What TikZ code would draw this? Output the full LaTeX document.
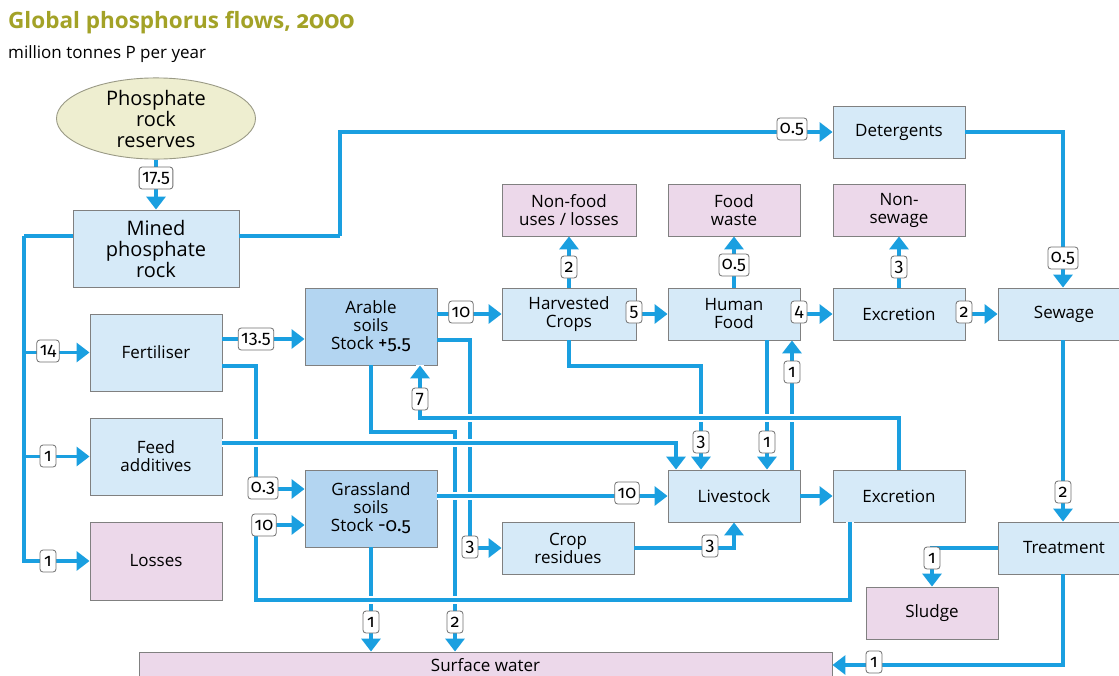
\documentclass[tikz,border=0pt]{standalone}
\usepackage{fontspec}
\setmainfont{Open Sans}
\newfontfamily\numf{Fira Sans}[Numbers=OldStyle]
\usetikzlibrary{arrows.meta,shapes.geometric,calc}
\definecolor{lb}{HTML}{D6EAF8}
\definecolor{db}{HTML}{B3D5F1}
\definecolor{pk}{HTML}{ECD8EA}
\definecolor{ell}{HTML}{EEEED0}
\definecolor{ellline}{HTML}{9A9A86}
\definecolor{boxline}{HTML}{808080}
\definecolor{fl}{HTML}{1A9FE0}
\definecolor{olive}{HTML}{A3A227}
\definecolor{labline}{HTML}{707070}
\begin{document}
\begin{tikzpicture}[x=1pt,y=-1pt,
  box/.style={draw=boxline,line width=0.9pt,fill=lb,minimum width=132pt,minimum height=52pt,inner sep=0pt,align=center,font=\fontsize{17}{18}\selectfont},
  tall/.style={box,minimum height=77pt},
  dark/.style={fill=db},
  pinkb/.style={fill=pk},
  flow/.style={draw=fl,line width=3.2pt,-{Triangle[width=19pt,length=13pt]}},
  plain/.style={draw=fl,line width=3.2pt},
  over/.style={preaction={draw=white,line width=8.5pt,-}},
  lab/.style={draw=labline,fill=white,rounded corners=3pt,line width=0.8pt,inner xsep=3pt,inner ysep=0pt,minimum width=16pt,minimum height=22pt,font=\numf\fontsize{18}{18}\selectfont}]
\fill[white] (0,0) rectangle (1119,675);
\useasboundingbox (0,0) rectangle (1119,675);
% titles
\node[anchor=base west,inner sep=0pt,text=olive,font=\fontsize{22.5}{26}\selectfont\bfseries] (title) at (8,28) {Global phosphorus flows, {\numf\bfseries\fontsize{24}{26}\selectfont 2000}};
\node[anchor=base west,inner sep=0pt,font=\fontsize{17}{19}\selectfont] (sub) at (8,58) {million tonnes P per year};
% nodes
\node[ellipse,draw=ellline,fill=ell,line width=0.9pt,minimum width=199pt,minimum height=77pt,inner sep=0pt,align=center,font=\fontsize{20}{21}\selectfont] (res) at (156,118.5) {Phosphate\\rock\\reserves};
\node[box,minimum width=166pt,minimum height=77pt,font=\fontsize{20}{21}\selectfont] (mined) at (156,248.5) {Mined\\phosphate\\rock};
\node[box] (det) at (899,132) {Detergents};
\node[box,pinkb,minimum width=134pt] (nonfood) at (569,210) {Non-food\\uses / losses};
\node[box,pinkb] (fwaste) at (734,210) {Food\\waste};
\node[box,pinkb] (nonsew) at (899,210) {Non-\\sewage};
\node[box,minimum width=134pt] (harv) at (569,314) {Harvested\\Crops};
\node[box] (hfood) at (734,314) {Human\\Food};
\node[box] (excr) at (899,314) {Excretion};
\node[box] (sew) at (1064,314) {Sewage};
\node[tall,dark] (arable) at (371,326.5) {Arable\\soils\\Stock {\numf\fontsize{19}{18}\selectfont +5.5}};
\node[tall] (fert) at (156,352.5) {Fertiliser};
\node[tall] (feed) at (156,456.5) {Feed\\additives};
\node[tall,pinkb,minimum height=78pt] (loss) at (156,561) {Losses};
\node[tall,dark] (grass) at (371,508.5) {Grassland\\soils\\Stock {\numf\fontsize{19}{18}\selectfont -0.5}};
\node[box] (live) at (734,496) {Livestock};
\node[box] (excr2) at (899,496) {Excretion};
\node[box] (crop) at (568,548) {Crop\\residues};
\node[box] (treat) at (1064,548) {Treatment};
\node[box,pinkb] (sludge) at (932,613) {Sludge};
\node[box,pinkb,minimum width=693pt,minimum height=26pt] (surf) at (485.5,665) {Surface water};
% coordinates for bends
\coordinate (t0) at (24,236);
\coordinate (t1) at (24,352.5);
\coordinate (t2) at (24,456.5);
\coordinate (m1) at (340,236);
\coordinate (f1) at (256,366);
\coordinate (b1) at (850,600);
\coordinate (b2) at (256,600);
\coordinate (a1) at (470,340);
\coordinate (s2) at (455,432);
\coordinate (s7) at (420,418);
\coordinate (h3) at (701,366);
% under flows
\draw[flow] (res.south) -- (mined.north);
\draw[plain] ([yshift=12.5pt]mined.east) -- (m1);
\draw[flow] (m1) |- (det.west);
\draw[flow] (det.east) -| ([xshift=-1pt]sew.north);
\draw[plain] ([yshift=12.5pt]mined.west) -- (t0);
\draw[flow] (t0) |- (loss.west);
\draw[flow] (t1) -- (fert.west);
\draw[flow] (t2) -- (feed.west);
\draw[flow] ([yshift=13.5pt]fert.east) coordinate (fa) -- (fa -| arable.west);
\draw[flow] ([yshift=-13.5pt]fert.east) -- (f1) |- ([yshift=19.5pt]grass.west);
\draw[flow] (harv.west -| arable.east) -- (harv.west);
\draw[flow] ([yshift=-13.5pt]arable.east) -- (a1) |- (crop.west);
\draw[flow] (arable.south) |- (s2) -- (s2 |- surf.north);
\draw[flow] (harv.east) -- (hfood.west);
\draw[flow] (hfood.east) -- (excr.west);
\draw[flow] (excr.east) -- (sew.west);
\draw[flow] (harv.north) -- (nonfood.south);
\draw[flow] (hfood.north) -- (fwaste.south);
\draw[flow] (excr.north) -- (nonsew.south);
\draw[flow] (harv.south) |- (h3) -- (h3 |- live.north);
\draw[flow] ([xshift=33pt]hfood.south) -- ([xshift=33pt]live.north);
\draw[flow] ([xshift=58pt]live.north) -- ([xshift=58pt]hfood.south);
\draw[flow] (crop.east) -| (live.south);
\draw[flow] (live.east) -- (excr2.west);
\draw[flow] (grass.south) -- (grass.south |- surf.north);
\draw[flow] ([xshift=-1pt]sew.south) -- ([xshift=-1pt]treat.north);
\draw[flow] (treat.west) -| (sludge.north);
\draw[flow] ([xshift=-1pt]treat.south) |- (surf.east);
% over flows (with bridges)
\draw[flow,over] (excr2.north) |- (s7) -- (s7 |- arable.south);
\draw[flow,over] ([yshift=13.5pt]feed.east) -| ([xshift=-58pt]live.north);
\draw[flow,over] (live.west -| grass.east) -- (live.west);
\draw[flow,over] ([xshift=-49pt]excr2.south) -- (b1) -- (b2) |- ([yshift=-16.5pt]grass.west);
% labels
\node[lab] (l175) at (156,178) {17.5};
\node[lab] (l05a) at (792,129) {0.5};
\node[lab] (l05b) at (1063,258) {0.5};
\node[lab] (l14) at (48,351) {14};
\node[lab] (l1a) at (48,456) {1};
\node[lab] (l1b) at (48,561) {1};
\node[lab] (l135) at (256,339) {13.5};
\node[lab] (l03) at (263,488) {0.3};
\node[lab] (l10a) at (264,525) {10};
\node[lab] (l10b) at (461,312) {10};
\node[lab] (l3a) at (470,547) {3};
\node[lab] (l7) at (420,399) {7};
\node[lab] (l5) at (634,312) {5};
\node[lab] (l4) at (799,312) {4};
\node[lab] (l2a) at (964,312) {2};
\node[lab] (l2b) at (569,267) {2};
\node[lab] (l05c) at (734,265) {0.5};
\node[lab] (l3b) at (899,267) {3};
\node[lab] (l3c) at (701,442) {3};
\node[lab] (l1c) at (767,442) {1};
\node[lab] (l1d) at (792,372) {1};
\node[lab] (l10c) at (627,493) {10};
\node[lab] (l3d) at (710,546) {3};
\node[lab] (l1e) at (371,622) {1};
\node[lab] (l2c) at (455,622) {2};
\node[lab] (l2d) at (1063,492) {2};
\node[lab] (l1f) at (932,558) {1};
\node[lab] (l1g) at (874,662) {1};
\end{tikzpicture}
\end{document}
